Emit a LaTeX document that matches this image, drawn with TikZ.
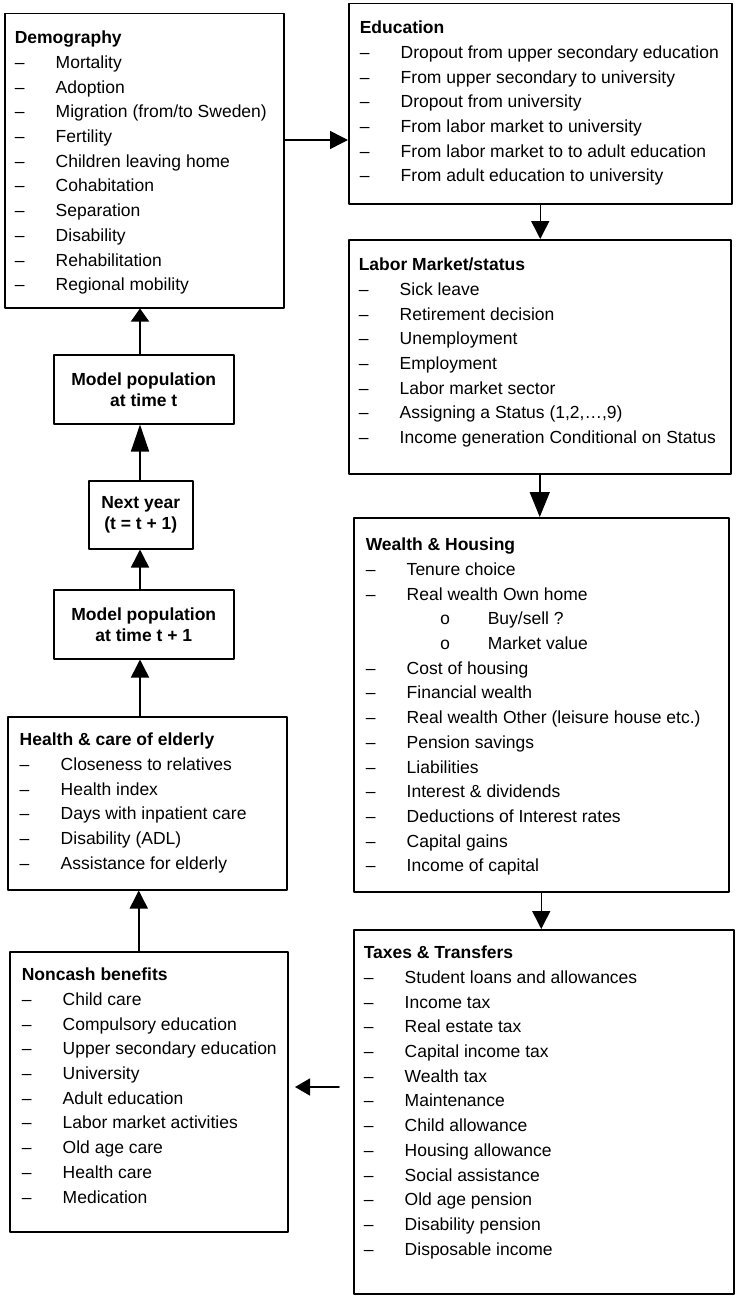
\documentclass[tikz,border=0pt]{standalone}
\usepackage{fontspec}
\setmainfont{Liberation Sans}
\newfontfamily\bulletfont{Liberation Mono}
\usetikzlibrary{arrows.meta}

\newcommand{\itm}[1]{\par\makebox[41pt][l]{--}#1}
\newcommand{\subitm}[1]{\par\hspace*{74pt}\makebox[48pt][l]{\bulletfont o}#1}
% width, height, left pad, first baseline, heading, items
\newcommand{\listbox}[6]{\parbox[c][#2pt][t]{#1pt}{\parindent=0pt\parskip=0pt\leftskip=#3pt
  \rule{0pt}{#4pt}\textbf{#5}#6\par}}

\begin{document}
\begin{tikzpicture}[line cap=round,line join=round,x=1pt,y=-1pt,
    block/.style={draw, line width=1.5pt, inner sep=0pt, anchor=north west,
      font=\fontsize{17.5pt}{24.7pt}\selectfont},
    popbox/.style={draw, line width=1.5pt, inner sep=0pt, anchor=north west, align=center,
      font=\bfseries\fontsize{17.5pt}{21pt}\selectfont},
    flow/.style={-{Triangle[length=18pt,width=18pt]}, line width=1.5pt}]
  \useasboundingbox (0,0) rectangle (744,1303);

  % left column
  \node[block] (demog) at (4,13) {\listbox{279}{294}{10}{30}{Demography}{%
    \itm{Mortality}\itm{Adoption}\itm{Migration (from/to Sweden)}\itm{Fertility}%
    \itm{Children leaving home}\itm{Cohabitation}\itm{Separation}\itm{Disability}%
    \itm{Rehabilitation}\itm{Regional mobility}}};
  \node[popbox, minimum width=180pt, minimum height=69pt] (popt) at (53,354) {Model population\\at time t};
  \node[popbox, minimum width=104pt, minimum height=68pt] (nextyr) at (88,480) {Next year\\(t = t + 1)};
  \node[popbox, minimum width=180pt, minimum height=69pt] (poptone) at (53,589) {Model population\\at time t + 1};
  \node[block] (health) at (7,716) {\listbox{279}{173}{12}{29}{Health \& care of elderly}{%
    \itm{Closeness to relatives}\itm{Health index}\itm{Days with inpatient care}%
    \itm{Disability (ADL)}\itm{Assistance for elderly}}};
  \node[block] (noncash) at (9,951) {\listbox{278}{280}{12}{29}{Noncash benefits}{%
    \itm{Child care}\itm{Compulsory education}\itm{Upper secondary education}%
    \itm{University}\itm{Adult education}\itm{Labor market activities}%
    \itm{Old age care}\itm{Health care}\itm{Medication}}};

  % right column
  \node[block] (educ) at (348,3) {\listbox{383}{200}{11}{30}{Education}{%
    \itm{Dropout from upper secondary education}\itm{From upper secondary to university}%
    \itm{Dropout from university}\itm{From labor market to university}%
    \itm{From labor market to to adult education}\itm{From adult education to university}}};
  \node[block] (labor) at (348,239) {\listbox{382}{234}{10}{31}{Labor Market/status}{%
    \itm{Sick leave}\itm{Retirement decision}\itm{Unemployment}\itm{Employment}%
    \itm{Labor market sector}\itm{Assigning a Status (1,2,…,9)}%
    \itm{Income generation Conditional on Status}}};
  \node[block] (wealth) at (353,517) {\listbox{375}{374}{12}{33}{Wealth \& Housing}{%
    \itm{Tenure choice}\itm{Real wealth Own home}\subitm{Buy/sell ?}\subitm{Market value}%
    \itm{Cost of housing}\itm{Financial wealth}\itm{Real wealth Other (leisure house etc.)}%
    \itm{Pension savings}\itm{Liabilities}\itm{Interest \& dividends}%
    \itm{Deductions of Interest rates}\itm{Capital gains}\itm{Income of capital}}};
  \node[block] (taxes) at (353,929) {\listbox{380}{364}{10}{29}{Taxes \& Transfers}{%
    \itm{Student loans and allowances}\itm{Income tax}\itm{Real estate tax}%
    \itm{Capital income tax}\itm{Wealth tax}\itm{Maintenance}\itm{Child allowance}%
    \itm{Housing allowance}\itm{Social assistance}\itm{Old age pension}%
    \itm{Disability pension}\itm{Disposable income}}};

  % connectors
  \coordinate (axis) at (140,140);
  \coordinate (taxtail) at (339,1087);
  \coordinate (cashtip) at (295,1087);
  \draw[flow] (demog.east |- axis) -- (educ.west |- axis);
  \draw[flow] (educ.south) -- (educ.south |- labor.north);
  \draw[flow, -{Triangle[length=25pt,width=20pt]}] (labor.south) -- (labor.south |- wealth.north);
  \draw[flow] (wealth.south) -- (wealth.south |- taxes.north);
  \draw[flow, -{Triangle[length=15pt,width=17pt]}] (taxtail) -- (cashtip);
  \draw[flow] ([xshift=-10pt]noncash.north) -- ([xshift=-10pt]noncash.north |- health.south);
  \draw[flow] (health.north -| axis) -- (poptone.south -| axis);
  \draw[flow] (poptone.north -| axis) -- (nextyr.south -| axis);
  \draw[flow, -{Triangle[length=27pt,width=18pt]}] (nextyr.north -| axis) -- (popt.south -| axis);
  \draw[flow, -{Triangle[length=13pt,width=18pt]}] (popt.north -| axis) -- (demog.south -| axis);
\end{tikzpicture}
\end{document}
